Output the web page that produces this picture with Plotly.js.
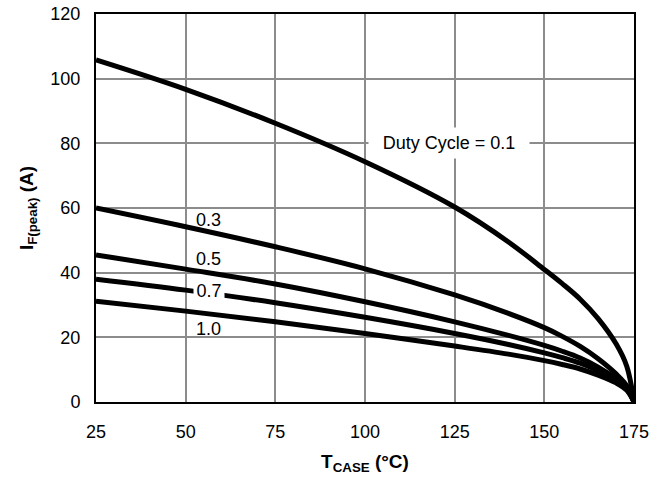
<!DOCTYPE html>
<html>
<head>
<meta charset="utf-8">
<script src="https://cdn.plot.ly/plotly-3.0.1.min.js"></script>
<style>html,body{margin:0;padding:0;background:#fff;}#chart{width:656px;height:479px;}</style>
</head>
<body>
<div id="chart"></div>
<script>
// Case temperature (°C)
const tCase = [25, 50, 75, 100, 125, 140, 150, 155, 160, 165, 170, 173, 175];
// Peak forward current (A) per duty cycle
const duty01 = [105.8, 96.7, 86.2, 74.3, 60.3, 49.5, 41.0, 36.6, 31.8, 25.8, 18.0, 11.0, 0];
const duty03 = [60.0, 54.2, 48.0, 41.2, 33.1, 27.4, 23.0, 20.3, 17.2, 13.4, 8.7, 5.0, 0];
const duty05 = [45.5, 41.1, 36.5, 31.0, 24.8, 20.6, 17.5, 15.7, 13.6, 10.8, 7.2, 4.3, 0];
const duty07 = [38.0, 34.6, 30.7, 26.2, 21.2, 17.8, 15.2, 13.7, 12.0, 9.7, 6.6, 3.9, 0];
const duty10 = [31.2, 28.1, 24.8, 21.2, 17.3, 14.8, 12.8, 11.6, 10.2, 8.3, 5.9, 3.6, 0];
const seriesNames = ["0.1", "0.3", "0.5", "0.7", "1.0"];
const xTicks = [25, 50, 75, 100, 125, 150, 175];
const yTicks = [0, 20, 40, 60, 80, 100, 120];

// label texts and anchor points
const labelText = ["Duty Cycle = 0.1", "0.3", "0.5", "0.7", "1.0"];
const labelX = [123.5, 56.4, 56.4, 56.4, 56.4];
const labelY = [80, 56.3, 44.1, 34.3, 22.7];

const font = "Liberation Sans, Arial, sans-serif";
const allSeries = [duty01, duty03, duty05, duty07, duty10];
const traces = allSeries.map((ys, i) => ({
  type: "scatter", mode: "lines", name: seriesNames[i],
  x: tCase, y: ys,
  line: {color: "#000", width: 5, shape: "spline", smoothing: 1},
  hoverinfo: "skip"
}));

const annotations = labelText.map((t, i) => {
  const a = {
    x: labelX[i], y: labelY[i], xref: "x", yref: "y",
    text: t, showarrow: false,
    font: {family: font, size: 18, color: "#000"}
  };
  if (i === 0) { a.bgcolor = "#fff"; a.width = 158; a.height = 28; }
  if (i === 3) { a.bgcolor = "#fff"; a.borderpad = 0; a.width = 30; }
  return a;
});

const layout = {
  width: 656, height: 479,
  margin: {l: 96, r: 22, t: 14, b: 77},
  paper_bgcolor: "#fff", plot_bgcolor: "#fff",
  showlegend: false,
  font: {family: font, size: 18, color: "#000"},
  xaxis: {
    range: [25, 175], tickvals: xTicks, ticktext: xTicks.map(String),
    showgrid: true, gridcolor: "#8c8c8c", gridwidth: 2,
    showline: true, linecolor: "#000", linewidth: 2, mirror: true,
    ticks: "", ticklabelstandoff: 12, zeroline: false,
    tickfont: {family: font, size: 18, color: "#000"},
    title: {text: "<b>T<sub>CASE</sub> (°C)</b>", font: {family: font, size: 19, color: "#000"}, standoff: 14}
  },
  yaxis: {
    range: [0, 120], tickvals: yTicks, ticktext: yTicks.map(String),
    showgrid: true, gridcolor: "#8c8c8c", gridwidth: 2,
    showline: true, linecolor: "#000", linewidth: 2, mirror: true,
    ticks: "", ticklabelstandoff: 10, zeroline: false,
    tickfont: {family: font, size: 18, color: "#000"},
    title: {text: "<b>I<sub>F(peak)</sub> (A)</b>", font: {family: font, size: 19, color: "#000"}, standoff: 12}
  },
  annotations: annotations
};

Plotly.newPlot("chart", traces, layout, {displayModeBar: false, staticPlot: true});
</script>
</body>
</html>
